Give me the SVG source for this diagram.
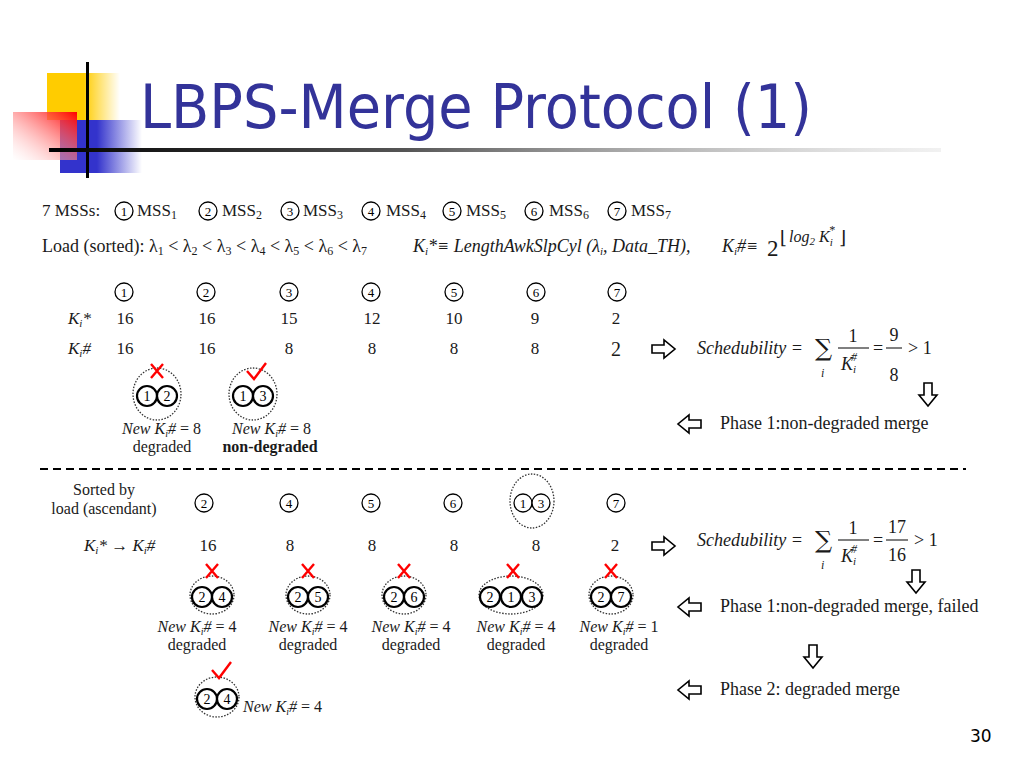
<svg xmlns="http://www.w3.org/2000/svg" xmlns:xlink="http://www.w3.org/1999/xlink" width="1024" height="768" viewBox="0 0 1024 768">
<defs>
<linearGradient id="gy" x1="0" y1="0" x2="1" y2="0"><stop offset="0" stop-color="#FFCC00"/><stop offset="0.5" stop-color="#FFCC00"/><stop offset="1" stop-color="#FFCC00" stop-opacity="0"/></linearGradient>
<linearGradient id="gb" x1="0" y1="0" x2="1" y2="0"><stop offset="0" stop-color="#3333CC"/><stop offset="0.45" stop-color="#3333CC"/><stop offset="1" stop-color="#3333CC" stop-opacity="0"/></linearGradient>
<linearGradient id="gr" x1="1" y1="0" x2="0" y2="1"><stop offset="0" stop-color="#FF0000"/><stop offset="1" stop-color="#FFFFFF" stop-opacity="0.3"/></linearGradient>
<linearGradient id="gl" x1="0" y1="0" x2="1" y2="0"><stop offset="0" stop-color="#000"/><stop offset="0.4" stop-color="#555"/><stop offset="1" stop-color="#ddd" stop-opacity="0.4"/></linearGradient>
<path id="ar" d="M0,-4 H12 V-9 L23,0 L12,9 V4 H0 Z" fill="#fff" stroke="#000" stroke-width="1.6" stroke-linejoin="miter"/>
<path id="xx" d="M-6,-7 L6,7 M6,-7 L-6,7" fill="none" stroke="#ff0000" stroke-width="2.4"/>
<path id="ck" d="M-9,-3 L-2,5 L10,-11" fill="none" stroke="#ff0000" stroke-width="2.4"/>
</defs>
<style>
.t{font-family:"Liberation Serif","Times New Roman",serif;font-size:16px;fill:#1a1a1a}
.i{font-style:italic}
.b{font-weight:bold}
.m{text-anchor:middle}
.L{font-size:18px}
.c circle{fill:#fff;stroke:#000;stroke-width:1.3}
.c text{font-family:"Liberation Serif",serif;font-size:13px;text-anchor:middle;fill:#000}
.mc circle{fill:#fff;stroke:#000;stroke-width:2.2}
.mc text{font-family:"Liberation Serif",serif;font-size:14px;text-anchor:middle;fill:#000}
.dot{fill:none;stroke:#333;stroke-width:1.3;stroke-dasharray:1.5 1.5}
.ln{stroke:#000;stroke-width:1}
.sig{font-family:"DejaVu Serif",serif;font-size:24px;fill:#1a1a1a}
</style>

<g id="logo">
<rect x="47" y="73" width="73" height="47" fill="url(#gy)"/>
<rect x="60" y="120" width="82" height="53" fill="url(#gb)"/>
<rect x="13" y="112" width="64" height="48" fill="url(#gr)"/>
<rect x="86" y="62" width="3" height="116" fill="#000"/>
<rect x="49" y="148" width="892" height="4" fill="url(#gl)"/>
</g>
<text id="title" x="140" y="128" font-family="DejaVu Sans, Verdana, sans-serif" font-size="61" fill="#333399" textLength="672" lengthAdjust="spacingAndGlyphs">LBPS-Merge Protocol (1)</text>

<g id="mss-list">
<text class="t" x="42" y="216" style="font-size:17px">7 MSSs:</text>
<g class="c"><circle cx="124" cy="211" r="9"/><text x="124" y="216">1</text></g>
<text class="t" x="137" y="216" style="font-size:17px">MSS<tspan font-size="12" dy="3">1</tspan></text>
<g class="c"><circle cx="208" cy="211" r="9"/><text x="208" y="216">2</text></g>
<text class="t" x="222" y="216" style="font-size:17px">MSS<tspan font-size="12" dy="3">2</tspan></text>
<g class="c"><circle cx="290" cy="211" r="9"/><text x="290" y="216">3</text></g>
<text class="t" x="303" y="216" style="font-size:17px">MSS<tspan font-size="12" dy="3">3</tspan></text>
<g class="c"><circle cx="371" cy="211" r="9"/><text x="371" y="216">4</text></g>
<text class="t" x="386" y="216" style="font-size:17px">MSS<tspan font-size="12" dy="3">4</tspan></text>
<g class="c"><circle cx="452" cy="211" r="9"/><text x="452" y="216">5</text></g>
<text class="t" x="466" y="216" style="font-size:17px">MSS<tspan font-size="12" dy="3">5</tspan></text>
<g class="c"><circle cx="534" cy="211" r="9"/><text x="534" y="216">6</text></g>
<text class="t" x="549" y="216" style="font-size:17px">MSS<tspan font-size="12" dy="3">6</tspan></text>
<g class="c"><circle cx="617" cy="211" r="9"/><text x="617" y="216">7</text></g>
<text class="t" x="631" y="216" style="font-size:17px">MSS<tspan font-size="12" dy="3">7</tspan></text>
</g>

<g id="load-line">
<text class="t L" x="42" y="252">Load (sorted): λ<tspan font-size="12" dy="3">1</tspan><tspan dy="-3"> &lt; λ</tspan><tspan font-size="12" dy="3">2</tspan><tspan dy="-3"> &lt; λ</tspan><tspan font-size="12" dy="3">3</tspan><tspan dy="-3"> &lt; λ</tspan><tspan font-size="12" dy="3">4</tspan><tspan dy="-3"> &lt; λ</tspan><tspan font-size="12" dy="3">5</tspan><tspan dy="-3"> &lt; λ</tspan><tspan font-size="12" dy="3">6</tspan><tspan dy="-3"> &lt; λ</tspan><tspan font-size="12" dy="3">7</tspan></text>
<text class="t L i" x="413" y="252">K<tspan font-size="11" dy="3">i</tspan><tspan dy="-3">*≡ LengthAwkSlpCyl (λ</tspan><tspan font-size="11" dy="3">i</tspan><tspan dy="-3">, Data_TH),</tspan></text>
<text class="t L i" x="722" y="252">K<tspan font-size="11" dy="3">i</tspan><tspan dy="-3">#≡</tspan></text>
<text class="t" x="767" y="256" style="font-size:23px">2</text>
<text class="t" x="780" y="244" style="font-family:'DejaVu Serif',serif;font-size:18px">⌊</text>
<text class="t i" x="789" y="242" style="font-size:16px">log<tspan font-size="11" dy="3">2</tspan><tspan dy="-3"> K</tspan><tspan font-size="11" dy="4">i</tspan><tspan font-size="12" dx="-4" dy="-12">*</tspan></text>
<text class="t" x="839" y="244" style="font-family:'DejaVu Serif',serif;font-size:18px">⌋</text>
</g>

<g id="table-top">
<g class="c"><circle cx="124" cy="292" r="9"/><text x="124" y="297">1</text></g>
<g class="c"><circle cx="206" cy="292" r="9"/><text x="206" y="297">2</text></g>
<g class="c"><circle cx="289" cy="292" r="9"/><text x="289" y="297">3</text></g>
<g class="c"><circle cx="371" cy="292" r="9"/><text x="371" y="297">4</text></g>
<g class="c"><circle cx="454" cy="292" r="9"/><text x="454" y="297">5</text></g>
<g class="c"><circle cx="536" cy="292" r="9"/><text x="536" y="297">6</text></g>
<g class="c"><circle cx="617" cy="292" r="9"/><text x="617" y="297">7</text></g>
<text class="t i" x="68" y="324" style="font-size:17px">K<tspan font-size="11" dy="3">i</tspan><tspan dy="-3">*</tspan></text>
<text class="t m" y="324" style="font-size:17px"><tspan x="125">16</tspan><tspan x="207">16</tspan><tspan x="289">15</tspan><tspan x="372">12</tspan><tspan x="454">10</tspan><tspan x="535">9</tspan><tspan x="616">2</tspan></text>
<text class="t i" x="68" y="354" style="font-size:17px">K<tspan font-size="11" dy="3">i</tspan><tspan dy="-3">#</tspan></text>
<text class="t m" y="354" style="font-size:17px"><tspan x="125">16</tspan><tspan x="207">16</tspan><tspan x="289">8</tspan><tspan x="372">8</tspan><tspan x="454">8</tspan><tspan x="535">8</tspan></text>
<text class="t m" x="616" y="356" style="font-size:20px">2</text>
</g>

<g id="merge-top">
<g id="m12">
<ellipse class="dot" cx="157" cy="394" rx="24" ry="26"/>
<g class="mc"><circle cx="147" cy="396" r="10"/><text x="147" y="401">1</text><circle cx="167" cy="396" r="10"/><text x="167" y="401">2</text></g>
<use href="#xx" x="157" y="371"/>
<text class="t i" x="122" y="434">New K<tspan font-size="10" dy="3">i</tspan><tspan dy="-3">#</tspan><tspan font-style="normal"> = 8</tspan></text>
<text class="t m" x="162" y="452">degraded</text>
</g>
<g id="m13">
<ellipse class="dot" cx="253" cy="394" rx="24" ry="26"/>
<g class="mc"><circle cx="243" cy="396" r="10"/><text x="243" y="401">1</text><circle cx="263" cy="396" r="10"/><text x="263" y="401">3</text></g>
<use href="#ck" x="256" y="374"/>
<text class="t i" x="232" y="434">New K<tspan font-size="10" dy="3">i</tspan><tspan dy="-3">#</tspan><tspan font-style="normal"> = 8</tspan></text>
<text class="t m b" x="270" y="452">non-degraded</text>
</g>
</g>

<g id="formula1" transform="translate(0,354)">
<text class="t L i" x="697" y="0" textLength="106" lengthAdjust="spacingAndGlyphs">Schedubility =</text>
<text class="sig" x="815" y="2">∑</text>
<text class="t i" x="821" y="23" style="font-size:12px">i</text>
<text class="t L m" x="853" y="-12">1</text>
<line class="ln" x1="838" y1="-6" x2="869" y2="-6"/>
<text class="t L i" x="841" y="16">K<tspan font-size="11" dy="3">i</tspan><tspan font-size="12" dx="-5" dy="-12">#</tspan></text>
<text class="t L" x="873" y="0">=</text>
<text class="t L m" x="894" y="-13">9</text>
<line class="ln" x1="886" y1="-6" x2="902" y2="-6"/>
<text class="t L m" x="894" y="27">8</text>
<text class="t L" x="908" y="0">&gt; 1</text>
</g>

<g id="flow1">
<use href="#ar" x="652" y="349"/>
<use href="#ar" transform="translate(928,383) rotate(90)"/>
<use href="#ar" transform="translate(701,424) scale(-1,1)"/>
<text class="t L" x="720" y="429">Phase 1:non-degraded merge</text>
</g>

<line id="separator" x1="40" y1="469" x2="966" y2="469" stroke="#000" stroke-width="2" stroke-dasharray="8 5"/>

<g id="table-bottom">
<text class="t m" x="104" y="495">Sorted by</text>
<text class="t m" x="104" y="514">load (ascendant)</text>
<g class="c"><circle cx="204" cy="503" r="9"/><text x="204" y="508">2</text></g>
<g class="c"><circle cx="289" cy="503" r="9"/><text x="289" y="508">4</text></g>
<g class="c"><circle cx="371" cy="503" r="9"/><text x="371" y="508">5</text></g>
<g class="c"><circle cx="453" cy="503" r="9"/><text x="453" y="508">6</text></g>
<ellipse class="dot" cx="532" cy="501" rx="22" ry="27"/>
<g class="c"><circle cx="523" cy="503" r="9"/><text x="523" y="508">1</text><circle cx="541" cy="503" r="9"/><text x="541" y="508">3</text></g>
<g class="c"><circle cx="616" cy="503" r="9"/><text x="616" y="508">7</text></g>
<text class="t i" x="84" y="551" style="font-size:17px">K<tspan font-size="11" dy="3">i</tspan><tspan dy="-3">* → K</tspan><tspan font-size="11" dy="3">i</tspan><tspan dy="-3">#</tspan></text>
<text class="t m" y="551" style="font-size:17px"><tspan x="208">16</tspan><tspan x="290">8</tspan><tspan x="372">8</tspan><tspan x="454">8</tspan><tspan x="536">8</tspan><tspan x="615">2</tspan></text>
</g>

<g id="formula2" transform="translate(0,546)">
<text class="t L i" x="697" y="0" textLength="106" lengthAdjust="spacingAndGlyphs">Schedubility =</text>
<text class="sig" x="815" y="2">∑</text>
<text class="t i" x="821" y="23" style="font-size:12px">i</text>
<text class="t L m" x="853" y="-12">1</text>
<line class="ln" x1="838" y1="-6" x2="869" y2="-6"/>
<text class="t L i" x="841" y="16">K<tspan font-size="11" dy="3">i</tspan><tspan font-size="12" dx="-5" dy="-12">#</tspan></text>
<text class="t L" x="873" y="0">=</text>
<text class="t L m" x="897" y="-13">17</text>
<line class="ln" x1="886" y1="-6" x2="908" y2="-6"/>
<text class="t L m" x="897" y="15">16</text>
<text class="t L" x="914" y="0">&gt; 1</text>
</g>

<g id="flow2">
<use href="#ar" x="652" y="546"/>
<use href="#ar" transform="translate(916,570) rotate(90)"/>
<use href="#ar" transform="translate(701,607) scale(-1,1)"/>
<text class="t L" x="720" y="612">Phase 1:non-degraded merge, failed</text>
<use href="#ar" transform="translate(813,645) rotate(90)"/>
<use href="#ar" transform="translate(701,690) scale(-1,1)"/>
<text class="t L" x="720" y="695">Phase 2: degraded merge</text>
</g>

<g id="merge-bottom">
<g id="m24">
<ellipse class="dot" cx="212" cy="595" rx="22" ry="19"/>
<g class="mc"><circle cx="202" cy="597" r="10"/><text x="202" y="602">2</text><circle cx="222" cy="597" r="10"/><text x="222" y="602">4</text></g>
<use href="#xx" x="212" y="571"/>
<text class="t i m" x="197" y="632">New K<tspan font-size="10" dy="3">i</tspan><tspan dy="-3">#</tspan><tspan font-style="normal"> = 4</tspan></text>
<text class="t m" x="197" y="650">degraded</text>
</g>
<g id="m25">
<ellipse class="dot" cx="308" cy="595" rx="22" ry="19"/>
<g class="mc"><circle cx="298" cy="597" r="10"/><text x="298" y="602">2</text><circle cx="318" cy="597" r="10"/><text x="318" y="602">5</text></g>
<use href="#xx" x="308" y="571"/>
<text class="t i m" x="308" y="632">New K<tspan font-size="10" dy="3">i</tspan><tspan dy="-3">#</tspan><tspan font-style="normal"> = 4</tspan></text>
<text class="t m" x="308" y="650">degraded</text>
</g>
<g id="m26">
<ellipse class="dot" cx="404" cy="595" rx="22" ry="19"/>
<g class="mc"><circle cx="394" cy="597" r="10"/><text x="394" y="602">2</text><circle cx="414" cy="597" r="10"/><text x="414" y="602">6</text></g>
<use href="#xx" x="404" y="571"/>
<text class="t i m" x="411" y="632">New K<tspan font-size="10" dy="3">i</tspan><tspan dy="-3">#</tspan><tspan font-style="normal"> = 4</tspan></text>
<text class="t m" x="411" y="650">degraded</text>
</g>
<g id="m213">
<ellipse class="dot" cx="511" cy="595" rx="32" ry="19"/>
<g class="mc"><circle cx="490" cy="597" r="10"/><text x="490" y="602">2</text><circle cx="511" cy="597" r="10"/><text x="511" y="602">1</text><circle cx="532" cy="597" r="10"/><text x="532" y="602">3</text></g>
<use href="#xx" x="513" y="571"/>
<text class="t i m" x="516" y="632">New K<tspan font-size="10" dy="3">i</tspan><tspan dy="-3">#</tspan><tspan font-style="normal"> = 4</tspan></text>
<text class="t m" x="516" y="650">degraded</text>
</g>
<g id="m27">
<ellipse class="dot" cx="611" cy="595" rx="22" ry="19"/>
<g class="mc"><circle cx="601" cy="597" r="10"/><text x="601" y="602">2</text><circle cx="621" cy="597" r="10"/><text x="621" y="602">7</text></g>
<use href="#xx" x="611" y="571"/>
<text class="t i m" x="619" y="632">New K<tspan font-size="10" dy="3">i</tspan><tspan dy="-3">#</tspan><tspan font-style="normal"> = 1</tspan></text>
<text class="t m" x="619" y="650">degraded</text>
</g>
<g id="m24final">
<ellipse class="dot" cx="217" cy="697" rx="22" ry="20"/>
<g class="mc"><circle cx="207" cy="699" r="10"/><text x="207" y="704">2</text><circle cx="227" cy="699" r="10"/><text x="227" y="704">4</text></g>
<use href="#ck" x="221" y="673"/>
<text class="t i" x="243" y="712">New K<tspan font-size="10" dy="3">i</tspan><tspan dy="-3">#</tspan><tspan font-style="normal"> = 4</tspan></text>
</g>
</g>

<text id="page" x="970" y="742" font-family="DejaVu Sans, sans-serif" font-size="17" fill="#000">30</text>
</svg>
